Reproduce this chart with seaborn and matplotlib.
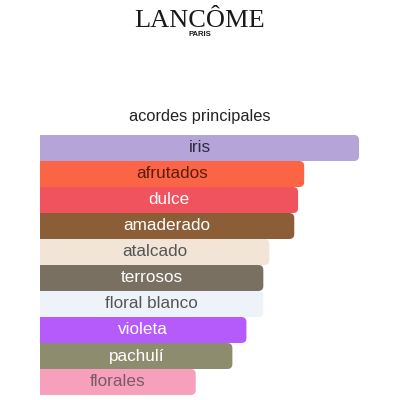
import matplotlib
matplotlib.use("Agg")
import matplotlib.pyplot as plt
import seaborn as sns
import pandas as pd
from matplotlib.patches import FancyBboxPatch

categories = ["iris", "afrutados", "dulce", "amaderado", "atalcado", "terrosos",
              "floral blanco", "violeta", "pachulí", "florales"]
values = [100, 82.8, 80.9, 79.7, 71.9, 70.0, 70.0, 64.7, 60.3, 48.8]
bar_colors = ["#B4A4D8", "#FC6446", "#F0525E", "#8C5E37", "#F2E5D8", "#7A7062",
              "#EEF3FA", "#B65BFB", "#8E8C6E", "#F7A0BC"]
text_colors = ["#2f2b45", "#5c1d0e", "#ffffff", "#ffffff", "#555555", "#ffffff",
               "#555555", "#ffffff", "#ffffff", "#7a5a68"]
title = "acordes principales"
brand = "LANCÔME"
subbrand = "PARIS"

df = pd.DataFrame({"acorde": categories, "valor": values})

sns.set_theme(style="white")
plt.rcParams["font.family"] = ["Liberation Sans", "DejaVu Sans"]

fig = plt.figure(figsize=(4, 4), dpi=100)
fig.patch.set_facecolor("white")
W, H = 400, 400
left, right, top, bottom = 40, 360, 135, 395
ax = fig.add_axes([left / W, 1 - bottom / H, (right - left) / W, (bottom - top) / H])

sns.barplot(data=df, y="acorde", x="valor", hue="acorde", palette=bar_colors,
            orient="h", width=1.0, legend=False, ax=ax, saturation=1)

xmax = 100.3
ax.set_xlim(0, xmax)
ax.set_ylim(len(categories) - 0.5, -0.5)

xu_per_px = xmax / (right - left)
yu_per_px = len(categories) / (bottom - top)
radius_px = 5
for p in list(ax.patches):
    x0, y0 = p.get_x(), p.get_y()
    w, h = p.get_width(), p.get_height()
    fc = p.get_facecolor()
    p.remove()
    ext = 3
    fb = FancyBboxPatch((x0 - ext, y0), w + ext, h,
                        boxstyle=f"round,pad=0,rounding_size={radius_px * xu_per_px}",
                        mutation_aspect=yu_per_px / xu_per_px,
                        facecolor=fc, edgecolor="none", clip_on=True)
    ax.add_patch(fb)

for i, (v, tc) in enumerate(zip(values, text_colors)):
    ax.text(v / 2, i, categories[i], ha="center", va="center", color=tc, fontsize=12.3)

ax.axis("off")

fig.text(0.5, 1 - 21 / H, brand, ha="center", va="center", fontsize=19,
         family=["Liberation Serif", "DejaVu Serif"], color="#1a1a1a")
fig.text(0.5, 1 - 35 / H, subbrand, ha="center", va="center", fontsize=5.5,
         fontweight="bold", color="#1a1a1a")
fig.text(0.5, 1 - 117 / H, title, ha="center", va="center", fontsize=11.8, color="#222222")

fig.savefig("out.png", dpi=100, facecolor="white")
